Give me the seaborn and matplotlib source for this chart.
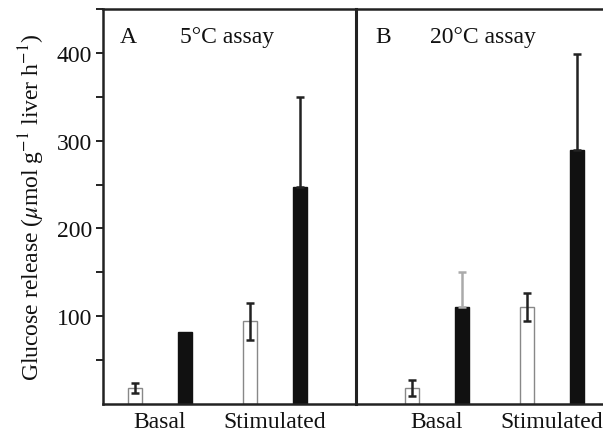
import matplotlib
matplotlib.use("Agg")
import matplotlib.pyplot as plt
from matplotlib.container import BarContainer
import seaborn as sns
import pandas as pd
import numpy as np

# ---- data ----
conditions = ["Basal", "Stimulated"]
groups = ["open", "filled"]
panel_titles = ["5°C assay", "20°C assay"]
panel_letters = ["A", "B"]
# values per panel: [Basal-open, Basal-filled, Stim-open, Stim-filled]
values_A = [18, 82, 94, 247]
errors_A = [6, 0, 21, 103]
values_B = [18, 110, 110, 289]
errors_B = [9, 40, 16, 110]
yticks_major = [100, 200, 300, 400]
yticks_minor = [50, 150, 250, 350, 450]

sns.set_theme(style="white")
plt.rcParams["font.family"] = ["Liberation Serif", "DejaVu Serif"]
plt.rcParams["mathtext.fontset"] = "stix"

FS = 17
W, H = 603, 435
fig = plt.figure(figsize=(W / 100, H / 100), dpi=100)
left_px, mid_px, right_px = 103, 356, 612
top_px, bot_px = 10, 405
b = 1 - bot_px / H
h = (bot_px - top_px) / H
axA = fig.add_axes([left_px / W, b, (mid_px - left_px) / W, h])
axB = fig.add_axes([mid_px / W, b, (right_px - mid_px) / W, h])
axB.patch.set_visible(False)

panels = [(axA, values_A, errors_A, (-0.496, 1.704)),
          (axB, values_B, errors_B, (-0.704, 1.52))]

for i, (ax, vals, errs, xl) in enumerate(panels):
    df = pd.DataFrame({
        "condition": [conditions[0], conditions[0], conditions[1], conditions[1]],
        "group": [groups[0], groups[1], groups[0], groups[1]],
        "value": vals,
        "err": errs,
    })
    sns.barplot(data=df, x="condition", y="value", hue="group", order=conditions,
                hue_order=groups, palette={"open": "white", "filled": "#111111"},
                width=0.87, gap=0.72, errorbar=None, legend=False, ax=ax,
                linewidth=1.0, edgecolor="#111111")
    bar_conts = [c for c in ax.containers if isinstance(c, BarContainer)]
    for gi, cont in enumerate(bar_conts):
        for ci, patch in enumerate(cont.patches):
            row = df[(df["group"] == groups[gi]) & (df["condition"] == conditions[ci])].iloc[0]
            if groups[gi] == "open":
                patch.set_edgecolor("#888888")
            cx = patch.get_x() + patch.get_width() / 2
            if row["err"] > 0:
                if groups[gi] == "filled":
                    ecol = "#aaaaaa" if (i == 1 and ci == 0) else "#222222"
                    ax.errorbar(cx, row["value"], yerr=[[0], [row["err"]]], fmt="none",
                                ecolor=ecol, elinewidth=1.8, capsize=3, capthick=1.8,
                                zorder=3)
                else:
                    ax.errorbar(cx, row["value"], yerr=row["err"], fmt="none",
                                ecolor="#222222", elinewidth=1.8, capsize=3,
                                capthick=1.8, zorder=3)
    ax.set_xlim(*xl)
    ax.set_ylim(0, 450)
    ax.set_xlabel("")
    ax.set_ylabel("")
    ax.tick_params(axis="x", length=0, labelsize=FS, pad=5, colors="#111111")
    ax.text(0.067 if i == 0 else 0.075, 0.93, panel_letters[i], transform=ax.transAxes,
            fontsize=FS, va="center", ha="left", color="#111111")
    ax.text(0.304 if i == 0 else 0.29, 0.93, panel_titles[i], transform=ax.transAxes,
            fontsize=FS, va="center", ha="left", color="#111111")
    for s in ax.spines.values():
        s.set_color("#222222")
        s.set_linewidth(1.8)

axA.set_yticks(yticks_major)
axA.set_yticks(yticks_minor, minor=True)
axA.tick_params(axis="y", which="both", direction="out", length=5, width=1.3,
                left=True, labelsize=FS, colors="#111111", pad=3)
axA.set_ylabel(r"Glucose release ($\mu$mol g$^{-1}$ liver h$^{-1}$)", fontsize=FS,
               color="#111111", labelpad=7)
axA.spines["right"].set_visible(True)
axA.spines["right"].set_linewidth(2.2)
axA.spines["right"].set_zorder(5)

axB.set_yticks([])
axB.spines["left"].set_visible(False)
axB.spines["right"].set_visible(False)

fig.savefig("out.png", dpi=100)
